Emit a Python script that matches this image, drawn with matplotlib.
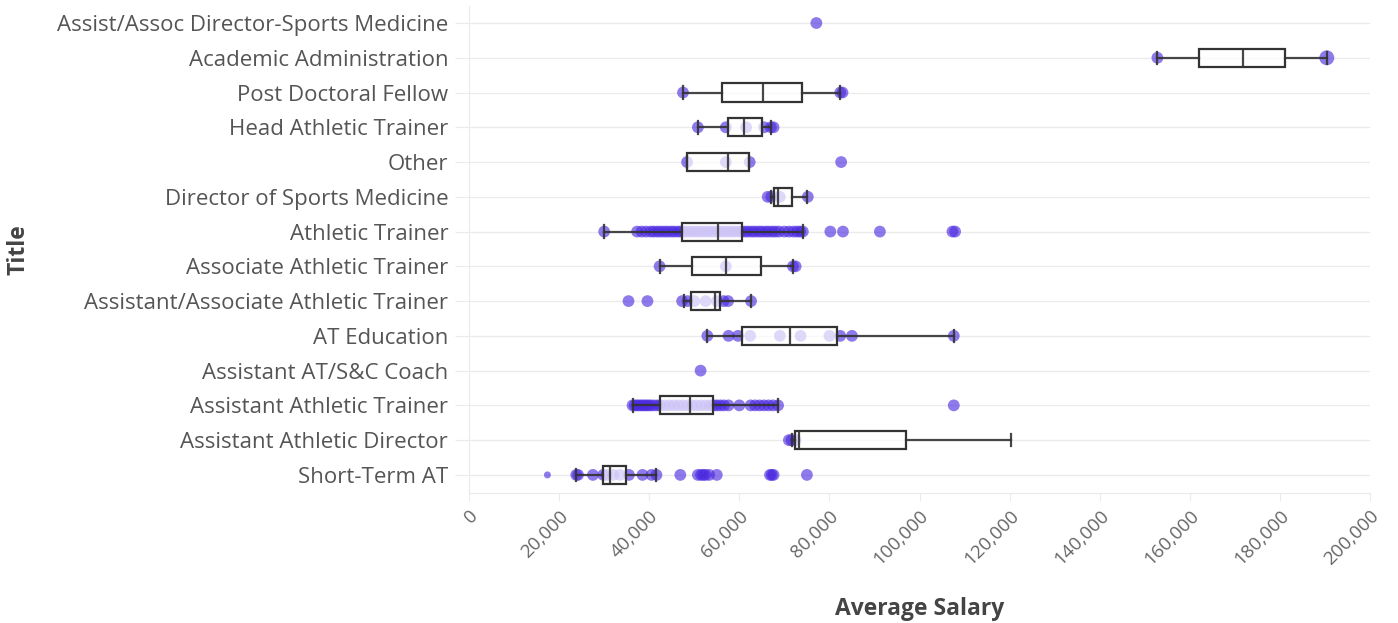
import matplotlib.pyplot as plt
from matplotlib.ticker import FuncFormatter

plt.rcParams['font.family'] = ['Open Sans', 'DejaVu Sans']

# categories, bottom to top
titles = ['Short-Term AT', 'Assistant Athletic Director', 'Assistant Athletic Trainer',
          'Assistant AT/S&C Coach', 'AT Education', 'Assistant/Associate Athletic Trainer',
          'Associate Athletic Trainer', 'Athletic Trainer', 'Director of Sports Medicine',
          'Other', 'Head Athletic Trainer', 'Post Doctoral Fellow', 'Academic Administration',
          'Assist/Assoc Director-Sports Medicine']

# box stats: whisker low, q1, median, q3, whisker high (None = single value, no box)
whislo = [23800, 71600, 36300, None, 52900, 47800, 42300, 30000, 67100, 48400, 50800, 47500, 152800, None]
q1 = [29700, 72300, 42400, None, 60600, 49300, 49600, 47300, 67800, 48400, 57400, 56100, 162100, None]
med = [31300, 73300, 49000, None, 71300, 54500, 57000, 55300, 68600, 57400, 61000, 65200, 171700, None]
q3 = [34900, 96900, 54100, None, 81700, 55800, 64700, 60600, 71800, 62200, 65100, 73800, 181200, None]
whishi = [41600, 120200, 68600, None, 107600, 62600, 71900, 74100, 75000, 62200, 67000, 82400, 190400, None]

# individual salaries per title
short_term = [17400, 23800, 24200, 27500, 29800, 30500, 32000, 33500, 35500, 38500, 40500,
              41600, 46900, 50800, 51500, 52000, 52500, 53300, 55000, 66800, 67200, 67600, 75000]
asst_ad = [71000, 71600, 72500]
asst_at = [36300, 36800, 37300, 37800, 38300, 38800, 39300, 39800, 40300, 41000, 41800, 42500,
           43500, 44500, 45500, 46500, 47500, 48500, 49500, 50500, 51500, 52500, 53500, 54300,
           55000, 55800, 56600, 57600, 60000, 62500, 63500, 64500, 65500, 66500, 67500, 68600, 107600]
asst_sc = [51400]
at_edu = [52900, 57600, 59700, 62400, 69000, 73600, 80000, 82400, 85000, 107600]
asst_assoc = [35400, 39600, 47300, 48500, 50000, 52500, 55000, 56500, 57500, 62600]
assoc_at = [42300, 57000, 71900, 72500]
athletic = [30000, 37300, 38300, 39300, 40300, 41000, 41800, 42500, 43300, 44000, 44800,
            45500, 46300, 47000, 47800, 48500, 49300, 50000, 50800, 51500, 52300, 53000,
            53800, 54500, 55300, 56000, 56800, 57500, 58300, 59000, 59800, 60500, 61300,
            62000, 62800, 63500, 64300, 65000, 65800, 66500, 67300, 68000, 68800, 70000,
            71000, 72000, 72800, 73500, 74100, 80200, 83000, 91200, 107300, 107900]
dir_sm = [66300, 67100, 69000, 75200]
other = [48400, 57000, 62300, 82600]
head_at = [50800, 57000, 61500, 65500, 67000, 67600]
postdoc = [47500, 82400, 82900]
acad_admin = [152800, 190400]
assist_dir_sm = [77100]

salaries = [short_term, asst_ad, asst_at, asst_sc, at_edu, asst_assoc, assoc_at, athletic,
            dir_sm, other, head_at, postdoc, acad_admin, assist_dir_sm]

fig, ax = plt.subplots(figsize=(13.98, 6.23), dpi=100)
fig.subplots_adjust(left=0.3355, right=0.98, top=0.9904, bottom=0.2087)

point_color = '#4a28e0'
for i, vals in enumerate(salaries):
    sizes = []
    for v in vals:
        if v < 20000:
            sizes.append(25)
        elif v > 185000:
            sizes.append(115)
        else:
            sizes.append(72)
    ax.scatter(vals, [i] * len(vals), s=sizes, color=point_color, alpha=0.62,
               edgecolors='none', zorder=2, clip_on=False)

stats = []
pos = []
for i in range(len(titles)):
    if med[i] is None:
        continue
    stats.append({'whislo': whislo[i], 'q1': q1[i], 'med': med[i], 'q3': q3[i],
                  'whishi': whishi[i], 'fliers': []})
    pos.append(i)

line_kw = dict(color='#333333', linewidth=1.6, alpha=0.9)
ax.bxp(stats, positions=pos, vert=False, widths=0.52, capwidths=0.36,
       patch_artist=True, showfliers=False,
       boxprops=dict(facecolor=(1, 1, 1, 0.72), edgecolor='#333333', linewidth=1.6),
       whiskerprops=line_kw, capprops=line_kw, medianprops=line_kw,
       manage_ticks=False, zorder=3)

ax.set_xlim(0, 200000)
ax.set_ylim(-0.52, 13.49)
ax.set_yticks(range(len(titles)))
ax.set_yticklabels(titles)
ax.set_xticks(range(0, 200001, 20000))
ax.xaxis.set_major_formatter(FuncFormatter(lambda v, p: f'{int(v):,}'))
plt.setp(ax.get_xticklabels(), rotation=45, ha='right', rotation_mode='anchor')

ax.grid(True, axis='y', color='#ebebeb', linewidth=1)
ax.set_axisbelow(True)
for s in ['top', 'right']:
    ax.spines[s].set_visible(False)
ax.spines['bottom'].set_color('#ebebeb')
ax.spines['left'].set_color('#ebebeb')
ax.tick_params(axis='y', colors='#ebebeb', labelcolor='#555555', labelsize=16, length=10, pad=5)
ax.tick_params(axis='x', colors='#ebebeb', labelcolor='#666666', labelsize=13.5, length=6, pad=4)

ax.set_xlabel('Average Salary', fontsize=16.5, fontweight='bold', color='#444444')
ax.set_ylabel('Title', fontsize=16.5, fontweight='bold', color='#444444')
ax.xaxis.set_label_coords(0.5, -0.2136)
ax.yaxis.set_label_coords(-0.487, 0.5)

plt.savefig('out.png', dpi=100)
